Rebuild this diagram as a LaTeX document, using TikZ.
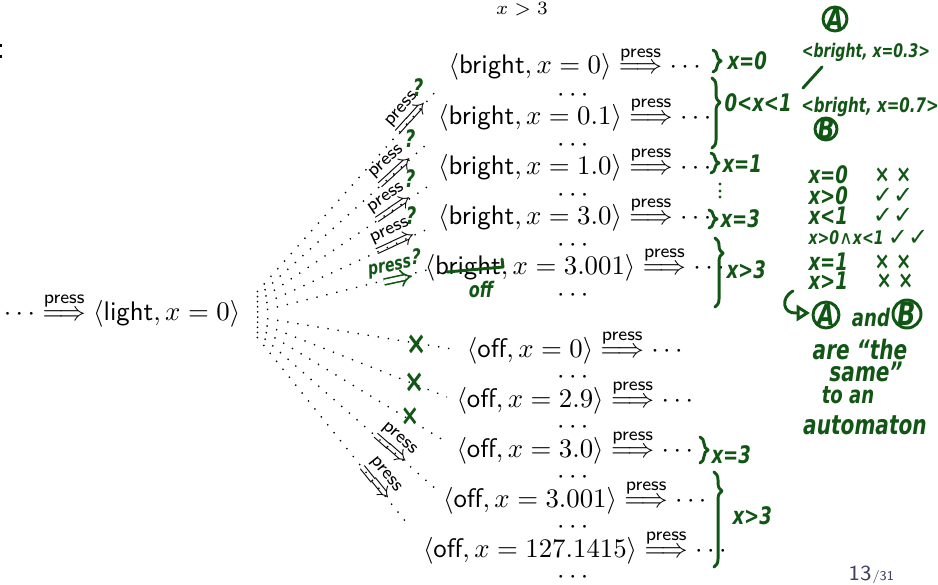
\documentclass[tikz,border=0pt]{standalone}
\usepackage{mathtools}
\usepackage{fontspec}
\newfontfamily\handfont{DejaVu Sans}[FakeStretch=0.75]
\newfontfamily\symfont{DejaVu Sans}
\usetikzlibrary{decorations.pathreplacing,arrows.meta}
\definecolor{hwgreen}{RGB}{18,86,22}
\definecolor{pagecol}{RGB}{62,62,98}
\newcommand\stt[2]{\langle\textsf{#1}, x = #2\rangle}
\newcommand\prs{\overset{\textsf{press}}{\Longrightarrow}}
\newcommand\hfs[1]{\fontsize{#1}{#1}\selectfont}
\newcommand\sym[1]{{\symfont\mdseries\upshape #1}}
\begin{document}
\begin{tikzpicture}[x=0.373pt,y=-0.373pt,
  fan/.style={line width=0.5pt, dash pattern=on 0.5pt off 3.3pt},
  lab/.style={sloped, anchor=mid, inner sep=0pt},
  hw/.style={text=hwgreen, inner sep=0pt, font=\handfont\bfseries\itshape\hfs{#1}},
  hw/.default=9,
  hwline/.style={draw=hwgreen, line width=1.1pt, line cap=round, line join=round},
  hbrace/.style={hwline, decorate, decoration={brace, amplitude=3pt, aspect=#1}},
  hbrace/.default=0.5,
  st/.style={anchor=base, inner sep=1pt}]
\useasboundingbox (0,0) rectangle (938,585);

% cut-off colon at the left edge
\fill (0,44) rectangle (2,47);
\fill (0,55) rectangle (2,58);

\node[anchor=base, font=\scriptsize] (cond) at (522,15) {$x > 3$};
\node[st] (light) at (122,320) {$\cdots \prs \stt{light}{0}$};

% bright rows
\node[st] (r1) at (577,74)  {$\stt{bright}{0} \prs \cdots$};
\node[st] (d1) at (575,101.5) {$\cdots$};
\node[st] (r2) at (577,124) {$\stt{bright}{0.1} \prs \cdots$};
\node[st] (d2) at (575,151.5) {$\cdots$};
\node[st] (r3) at (577,174) {$\stt{bright}{1.0} \prs \cdots$};
\node[st] (d3) at (575,201.5) {$\cdots$};
\node[st] (r4) at (577,224) {$\stt{bright}{3.0} \prs \cdots$};
\node[st] (d4) at (575,251.5) {$\cdots$};
\node[st] (r5) at (577,274) {$\stt{bright}{3.001} \prs \cdots$};
\node[st] (d5) at (575,301.5) {$\cdots$};
% off rows
\node[st] (r6) at (577,357)  {$\stt{off}{0} \prs \cdots$};
\node[st] (d6) at (575,383.5) {$\cdots$};
\node[st] (r7) at (577,407)  {$\stt{off}{2.9} \prs \cdots$};
\node[st] (d7) at (575,433.5) {$\cdots$};
\node[st] (r8) at (577,457)  {$\stt{off}{3.0} \prs \cdots$};
\node[st] (d8) at (575,483.5) {$\cdots$};
\node[st] (r9) at (577,507)  {$\stt{off}{3.001} \prs \cdots$};
\node[st] (d9) at (575,533.5) {$\cdots$};
\node[st] (r10) at (577,557) {$\stt{off}{127.1415} \prs \cdots$};
\node[st] (d10) at (575,583.5) {$\cdots$};

% fan of dotted connectors
\foreach \i in {1,...,10} \coordinate (s\i) at (257,{287+5*\i});
\coordinate (e1) at (437,90);
\coordinate (e2) at (428,143);
\coordinate (e3) at (430,185);
\coordinate (e4) at (430,228);
\coordinate (e5) at (427,270);
\coordinate (e6) at (458,350);
\coordinate (e7) at (447,397);
\coordinate (e8) at (448,443);
\coordinate (e9) at (437,490);
\coordinate (e10) at (410,527);
\draw[fan] (s1) -- node[lab, pos=0.86] {$\prs$} (e1);
\draw[fan] (s2) -- node[lab, pos=0.81] {$\prs$} (e2);
\draw[fan] (s3) -- node[lab, pos=0.79] {$\prs$} (e3);
\draw[fan] (s4) -- node[lab, pos=0.80] {$\prs$} (e4);
\draw[fan] (s5) -- (e5);
\draw[fan] (s6) -- (e6);
\draw[fan] (s7) -- (e7);
\draw[fan] (s8) -- (e8);
\draw[fan] (s9) -- node[lab, pos=0.74] {$\prs$} (e9);
\draw[fan] (s10) -- node[lab, pos=0.77] {$\prs$} (e10);

% green marks on the fan
\node[hw=9] (q1) at (418,88) {?};
\node[hw=9] (q2) at (410,139) {?};
\node[hw=9] (q3) at (410,179) {?};
\node[hw=9] (q4) at (411,216) {?};
\node[hw=8] (q5) at (416,257) {?};
\node[hw=7, rotate=10] (hp) at (390,268) {press};
\draw[hwgreen, line width=0.6pt, double distance=1.6pt, -{Implies}] (384,282) -- (412,276);
\node[hw=12] (x1) at (417,345) {×};
\node[hw=12] (x2) at (415,383) {×};
\node[hw=11] (x3) at (410,417) {×};
% strike "bright" in row 5
\draw[hwline] (447,272) -- (503,267) -- (502,259);
\node[hw=8] (off) at (481,290) {off};

% braces
\draw[hbrace] (713,50) -- (713,72);
\node[hw, anchor=west] (b1) at (727,61) {x=0};
\draw[hbrace=0.35] (712,78) -- (712,148);
\node[hw, anchor=west] (b2) at (724,103) {0<x<1};
\draw[hbrace] (711,153) -- (711,173);
\node[hw, anchor=west] (b3) at (722,164) {x=1};
\fill[hwgreen] (720,184) circle (1.6) (720,191) circle (1.6) (720,197) circle (1.6);
\draw[hbrace] (709,210) -- (709,228);
\node[hw, anchor=west] (b4) at (720,219) {x=3};
\draw[hbrace=0.22] (715,238) -- (715,307);
\node[hw, anchor=west] (b5) at (726,270) {x>3};
\draw[hbrace] (700,437) -- (700,463);
\node[hw, anchor=west] (b6) at (711,455) {x=3};
\draw[hbrace=0.2] (714,472) -- (714,567);
\node[hw, anchor=west] (b7) at (732,516) {x>3};

% notes on the right
\node[hw=11] (A1) at (835,19) {A};
\draw[hwline] (A1) circle (12);
\node[hw=7] (n03) at (866,52) {<bright, x=0.3>};
\draw[hwline] (822,67) -- (803,88);
\node[hw=7.5] (n07) at (870,107) {<bright, x=0.7>};
\node[hw=11] (B1) at (826,129) {B};
\draw[hwline] (B1) circle (11);

\node[hw, anchor=west] (c1) at (808,175) {x=0};
\node[hw] (v1) at (893,175) {× ×};
\node[hw, anchor=west] (c2) at (808,196) {x>0};
\node[hw] (v2) at (893,196) {\sym{✓✓}};
\node[hw, anchor=west] (c3) at (808,216) {x<1};
\node[hw] (v3) at (893,216) {\sym{✓✓}};
\node[hw=7, anchor=west] (c4) at (808,238) {x>0\sym{∧}x<1};
\node[hw] (v4) at (908,238) {\sym{✓✓}};
\node[hw, anchor=west] (c5) at (808,262) {x=1};
\node[hw] (v5) at (893,262) {× ×};
\node[hw, anchor=west] (c6) at (808,281) {x>1};
\node[hw] (v6) at (895,281) {× ×};

\draw[hwline, -{Triangle[open, length=5pt, width=6pt]}] (793,291) .. controls (780,298) and (783,314) .. (796,313) -- (810,313);
\node[hw=11] (A2) at (826,315) {A};
\draw[hwline] (A2) circle (13);
\node[hw=9] (and) at (871,318) {and};
\node[hw=12] (B2) at (907,314) {B};
\draw[hwline] (B2) circle (14);
\node[hw=10] (are) at (860,350) {are “the};
\node[hw=10] (same) at (866,372) {same”};
\node[hw=9] (toan) at (848,395) {to an};
\node[hw=10] (auto) at (865,425) {automaton};

% page number
\node[anchor=base east, inner sep=0pt, text=pagecol, font=\sffamily\footnotesize] (pg) at (872,580) {13};
\node[anchor=base west, inner sep=0pt, text=pagecol, font=\sffamily\tiny] (pgt) at (pg.base east) {/31};
\end{tikzpicture}
\end{document}
